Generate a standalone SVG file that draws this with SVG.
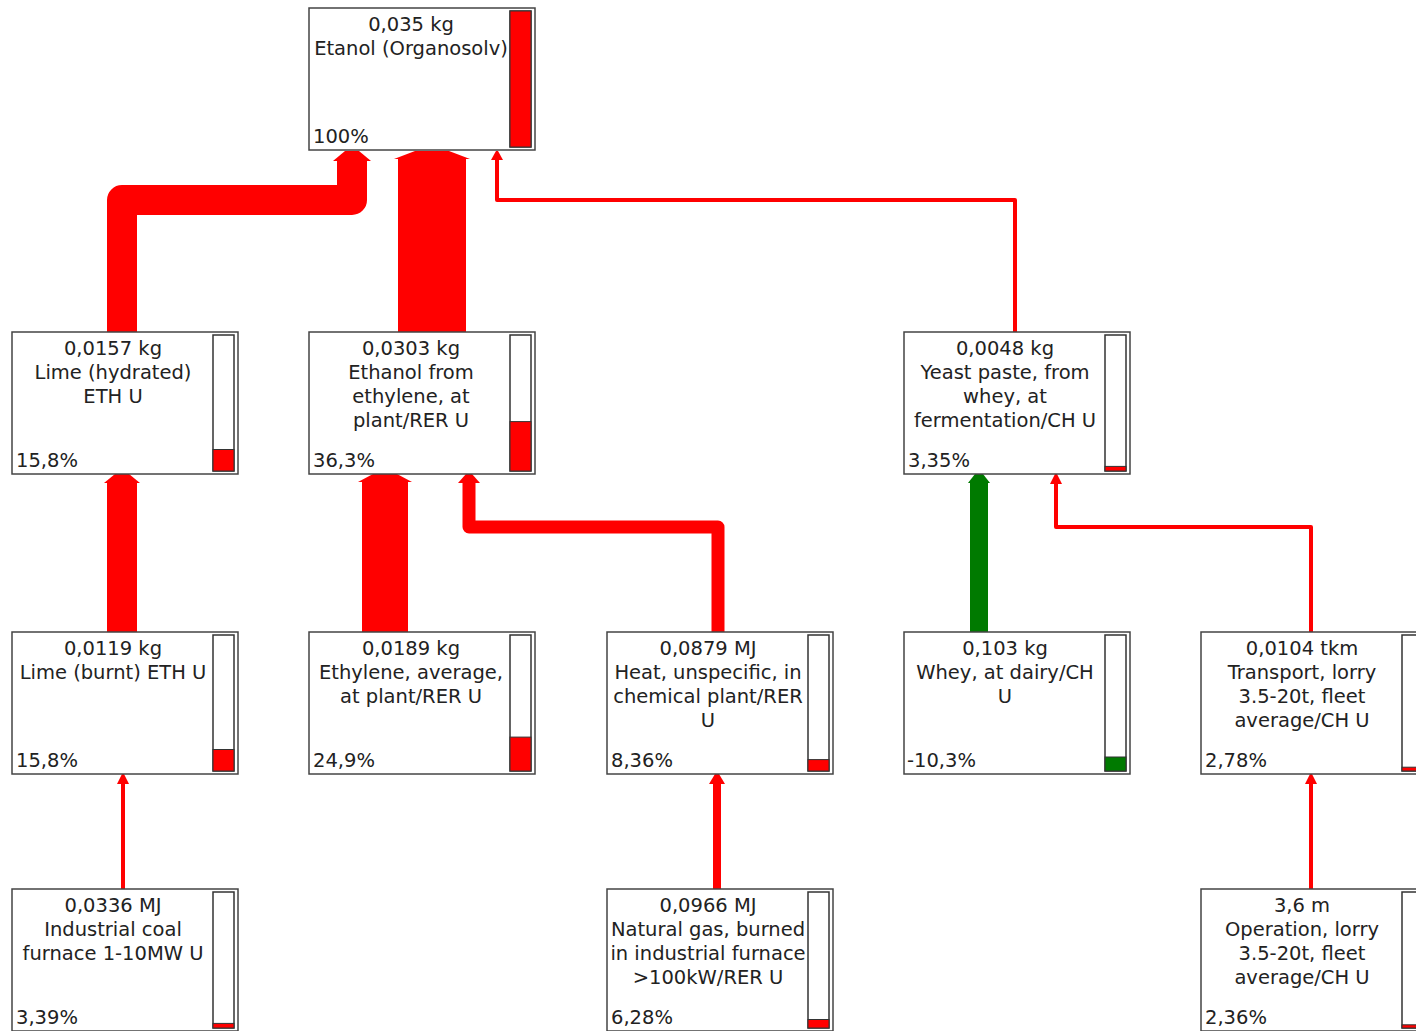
<svg xmlns="http://www.w3.org/2000/svg" width="1416" height="1031" viewBox="0 0 1416 1031">
<style>
.box{fill:#fff;stroke:#444;stroke-width:1.5}
.bar{fill:#fff;stroke:#333;stroke-width:1.5}
.fr{fill:#f00;stroke:#333;stroke-width:1}
.fg{fill:#007a00;stroke:#333;stroke-width:1}
text{font-family:"DejaVu Sans",Verdana,sans-serif;font-size:19.5px;fill:#222}
.c{text-anchor:middle}
.r{fill:none;stroke:#f00;stroke-linejoin:round}
.g{fill:none;stroke:#007a00}
.hr{fill:#f00}
.hg{fill:#007a00}
</style>
<rect width="1416" height="1031" fill="#fff"/>
<g id="connectors">
<path class="r" stroke-width="30" d="M122,332 V200 H352 V160"/>
<polygon class="hr" points="333,161 345,151 359,151 371,161"/>
<path class="r" stroke-width="68" d="M432,332 V158"/>
<polygon class="hr" points="394,159 415,151 449,151 470,159"/>
<path class="r" stroke-width="4" d="M1015,332 V200 H497 V158"/>
<polygon class="hr" points="491,160 496,151 498,151 503,160"/>
<path class="r" stroke-width="30" d="M122,632 V482"/>
<polygon class="hr" points="104,483 115,474 129,474 140,483"/>
<path class="r" stroke-width="46" d="M385,632 V481"/>
<polygon class="hr" points="358,482 373,474 397,474 412,482"/>
<path class="r" stroke-width="13" d="M718,632 V527 H469 V481"/>
<polygon class="hr" points="458,483 466,474 472,474 480,483"/>
<path class="g" stroke-width="18" d="M979,632 V481"/>
<polygon class="hg" points="968,483 975,474 983,474 990,483"/>
<path class="r" stroke-width="4" d="M1311,632 V527 H1056 V482"/>
<polygon class="hr" points="1050,484 1055,474 1057,474 1062,484"/>
<path class="r" stroke-width="4" d="M123,889 V782"/>
<polygon class="hr" points="117,784 122,774 124,774 129,784"/>
<path class="r" stroke-width="8" d="M717,889 V782"/>
<polygon class="hr" points="709,784 715,774 719,774 725,784"/>
<path class="r" stroke-width="4" d="M1311,889 V782"/>
<polygon class="hr" points="1305,784 1310,774 1312,774 1317,784"/>
</g>
<g id="n0">
<rect class="box" x="309" y="8" width="226" height="142"/>
<rect class="bar" x="510" y="11" width="21" height="136"/>
<rect class="fr" x="510" y="11" width="21" height="136"/>
<text class="c" x="411" y="31">0,035 kg</text>
<text class="c" x="411" y="55">Etanol (Organosolv)</text>
<text x="313" y="143">100%</text>
</g>
<g id="n1">
<rect class="box" x="12" y="332" width="226" height="142"/>
<rect class="bar" x="213" y="335" width="21" height="136"/>
<rect class="fr" x="213" y="449.5" width="21" height="21.5"/>
<text class="c" x="113" y="355">0,0157 kg</text>
<text class="c" x="113" y="379">Lime (hydrated)</text>
<text class="c" x="113" y="403">ETH U</text>
<text x="16" y="467">15,8%</text>
</g>
<g id="n2">
<rect class="box" x="309" y="332" width="226" height="142"/>
<rect class="bar" x="510" y="335" width="21" height="136"/>
<rect class="fr" x="510" y="421.6" width="21" height="49.4"/>
<text class="c" x="411" y="355">0,0303 kg</text>
<text class="c" x="411" y="379">Ethanol from</text>
<text class="c" x="411" y="403">ethylene, at</text>
<text class="c" x="411" y="427">plant/RER U</text>
<text x="313" y="467">36,3%</text>
</g>
<g id="n3">
<rect class="box" x="904" y="332" width="226" height="142"/>
<rect class="bar" x="1105" y="335" width="21" height="136"/>
<rect class="fr" x="1105" y="466.4" width="21" height="4.6"/>
<text class="c" x="1005" y="355">0,0048 kg</text>
<text class="c" x="1005" y="379">Yeast paste, from</text>
<text class="c" x="1005" y="403">whey, at</text>
<text class="c" x="1005" y="427">fermentation/CH U</text>
<text x="908" y="467">3,35%</text>
</g>
<g id="n4">
<rect class="box" x="12" y="632" width="226" height="142"/>
<rect class="bar" x="213" y="635" width="21" height="136"/>
<rect class="fr" x="213" y="749.5" width="21" height="21.5"/>
<text class="c" x="113" y="655">0,0119 kg</text>
<text class="c" x="113" y="679">Lime (burnt) ETH U</text>
<text x="16" y="767">15,8%</text>
</g>
<g id="n5">
<rect class="box" x="309" y="632" width="226" height="142"/>
<rect class="bar" x="510" y="635" width="21" height="136"/>
<rect class="fr" x="510" y="737.1" width="21" height="33.9"/>
<text class="c" x="411" y="655">0,0189 kg</text>
<text class="c" x="411" y="679">Ethylene, average,</text>
<text class="c" x="411" y="703">at plant/RER U</text>
<text x="313" y="767">24,9%</text>
</g>
<g id="n6">
<rect class="box" x="607" y="632" width="226" height="142"/>
<rect class="bar" x="808" y="635" width="21" height="136"/>
<rect class="fr" x="808" y="759.6" width="21" height="11.4"/>
<text class="c" x="708" y="655">0,0879 MJ</text>
<text class="c" x="708" y="679">Heat, unspecific, in</text>
<text class="c" x="708" y="703">chemical plant/RER</text>
<text class="c" x="708" y="727">U</text>
<text x="611" y="767">8,36%</text>
</g>
<g id="n7">
<rect class="box" x="904" y="632" width="226" height="142"/>
<rect class="bar" x="1105" y="635" width="21" height="136"/>
<rect class="fg" x="1105" y="757" width="21" height="14"/>
<text class="c" x="1005" y="655">0,103 kg</text>
<text class="c" x="1005" y="679">Whey, at dairy/CH</text>
<text class="c" x="1005" y="703">U</text>
<text x="907" y="767">-10,3%</text>
</g>
<g id="n8">
<rect class="box" x="1201" y="632" width="226" height="142"/>
<rect class="bar" x="1402" y="635" width="21" height="136"/>
<rect class="fr" x="1402" y="767.2" width="21" height="3.8"/>
<text class="c" x="1302" y="655">0,0104 tkm</text>
<text class="c" x="1302" y="679">Transport, lorry</text>
<text class="c" x="1302" y="703">3.5-20t, fleet</text>
<text class="c" x="1302" y="727">average/CH U</text>
<text x="1205" y="767">2,78%</text>
</g>
<g id="n9">
<rect class="box" x="12" y="889" width="226" height="142"/>
<rect class="bar" x="213" y="892" width="21" height="136"/>
<rect class="fr" x="213" y="1023.4" width="21" height="4.6"/>
<text class="c" x="113" y="912">0,0336 MJ</text>
<text class="c" x="113" y="936">Industrial coal</text>
<text class="c" x="113" y="960">furnace 1-10MW U</text>
<text x="16" y="1024">3,39%</text>
</g>
<g id="n10">
<rect class="box" x="607" y="889" width="226" height="142"/>
<rect class="bar" x="808" y="892" width="21" height="136"/>
<rect class="fr" x="808" y="1019.5" width="21" height="8.5"/>
<text class="c" x="708" y="912">0,0966 MJ</text>
<text class="c" x="708" y="936">Natural gas, burned</text>
<text class="c" x="708" y="960">in industrial furnace</text>
<text class="c" x="708" y="984">&gt;100kW/RER U</text>
<text x="611" y="1024">6,28%</text>
</g>
<g id="n11">
<rect class="box" x="1201" y="889" width="226" height="142"/>
<rect class="bar" x="1402" y="892" width="21" height="136"/>
<rect class="fr" x="1402" y="1024.8" width="21" height="3.2"/>
<text class="c" x="1302" y="912">3,6 m</text>
<text class="c" x="1302" y="936">Operation, lorry</text>
<text class="c" x="1302" y="960">3.5-20t, fleet</text>
<text class="c" x="1302" y="984">average/CH U</text>
<text x="1205" y="1024">2,36%</text>
</g>
</svg>
